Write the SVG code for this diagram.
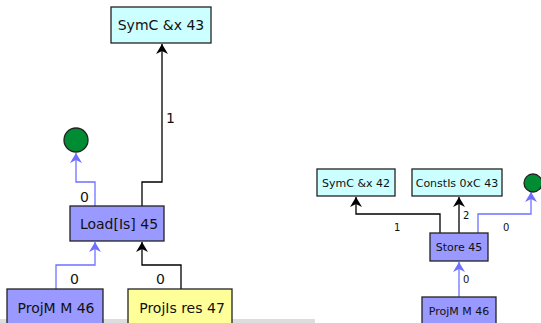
<svg xmlns="http://www.w3.org/2000/svg" width="541" height="323" viewBox="0 0 541 323">
<style>
.n{stroke:#222;stroke-width:1.3}
.cy{fill:#ccffff}.bl{fill:#9999ff}.ye{fill:#ffff99}
.gr{fill:#008c33;stroke:#222;stroke-width:1.3}
text{font-family:"DejaVu Sans",sans-serif;fill:#111}
.t{font-size:14px;text-anchor:middle}
.s{font-size:11px;text-anchor:middle}
.l{font-size:14px}
.ls{font-size:10px}
.e{fill:none;stroke-width:1.3}
.k{stroke:#000}
.b{stroke:#7070ff}
</style>
<defs>
<marker id="ak" viewBox="0 0 10 12" refX="10" refY="6" markerWidth="10" markerHeight="12" markerUnits="userSpaceOnUse" orient="auto"><path d="M0,0 L10,6 L0,12 L3,6 Z" fill="#000"/></marker>
<marker id="ab" viewBox="0 0 10 12" refX="10" refY="6" markerWidth="10" markerHeight="12" markerUnits="userSpaceOnUse" orient="auto"><path d="M0,0 L10,6 L0,12 L3,6 Z" fill="#7070ff"/></marker>
</defs>
<rect x="0" y="319" width="315" height="4" fill="#dddddd"/>
<g id="edges">
<path class="e k" d="M142,206 V182 H162 V44" marker-end="url(#ak)"/>
<text class="l" x="166" y="123">1</text>
<path class="e b" d="M95,206 V182 H76 V153" marker-end="url(#ab)"/>
<text class="l" x="80" y="202">0</text>
<path class="e b" d="M56,289 V265 H95 V242" marker-end="url(#ab)"/>
<text class="l" x="70" y="284">0</text>
<path class="e k" d="M181,289 V265 H142 V242" marker-end="url(#ak)"/>
<text class="l" x="156" y="284">0</text>
<path class="e k" d="M440,233 V214 H356 V197" marker-end="url(#ak)"/>
<text class="ls" x="394" y="231">1</text>
<path class="e k" d="M459,233 V197" marker-end="url(#ak)"/>
<text class="ls" x="463" y="219">2</text>
<path class="e b" d="M478,233 V214 H531 V192" marker-end="url(#ab)"/>
<text class="ls" x="503" y="231">0</text>
<path class="e b" d="M459,297 V262" marker-end="url(#ab)"/>
<text class="ls" x="463" y="283">0</text>
</g>
<g id="symc43"><rect class="n cy" x="111" y="7" width="100" height="36"/><text class="t" x="161" y="30">SymC &amp;x 43</text></g>
<g id="circle1"><circle class="gr" cx="76" cy="140" r="12"/></g>
<g id="load45"><rect class="n bl" x="70" y="206" width="94" height="35"/><text class="t" x="119" y="229">Load[Is] 45</text></g>
<g id="projm46a"><rect class="n bl" x="7" y="289" width="96" height="40"/><text class="t" x="56" y="313">ProjM M 46</text></g>
<g id="projis47"><rect class="n ye" x="128" y="289" width="104" height="40"/><text class="t" x="182" y="313">ProjIs res 47</text></g>
<g id="symc42"><rect class="n cy" x="317" y="169" width="78" height="27"/><text class="s" x="356" y="187">SymC &amp;x 42</text></g>
<g id="constis43"><rect class="n cy" x="412" y="169" width="90" height="27"/><text class="s" x="457" y="187">ConstIs 0xC 43</text></g>
<g id="circle2"><circle class="gr" cx="533" cy="183" r="9"/></g>
<g id="store45"><rect class="n bl" x="430" y="233" width="58" height="28"/><text class="s" x="459" y="251">Store 45</text></g>
<g id="projm46b"><rect class="n bl" x="422" y="297" width="74" height="30"/><text class="s" x="459" y="315">ProjM M 46</text></g>
</svg>
